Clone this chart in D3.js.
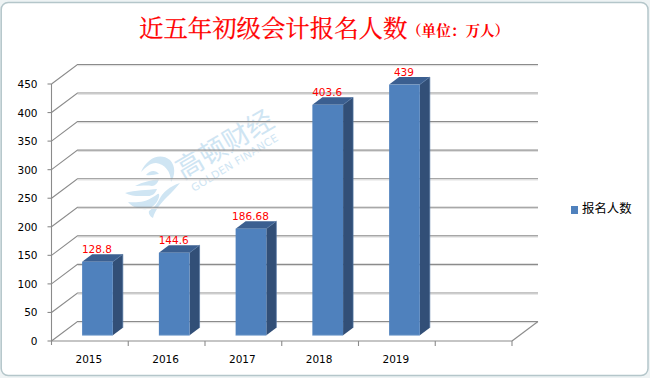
<!DOCTYPE html>
<html><head><meta charset="utf-8">
<script src="https://cdnjs.cloudflare.com/ajax/libs/d3/7.8.5/d3.min.js"></script>
<style>html,body{margin:0;padding:0;background:#fff}svg{display:block}</style>
</head><body><svg id="c" width="650" height="378"></svg>
<script>
const years = ["2015","2016","2017","2018","2019",""];
const values = [128.8,144.6,186.68,403.6,439];
const valueLabels = ["128.8","144.6","186.68","403.6","439"];
const yTicks = [0,50,100,150,200,250,300,350,400,450];
const titleMain = "近五年初级会计报名人数";
const titleUnit = "（单位：万人）";
const seriesName = "报名人数";
const cjk = "'Noto Sans CJK SC',sans-serif";
const serif = "'Noto Serif CJK SC',"+cjk;
const latin = "'DejaVu Sans',sans-serif";
const wmColor = "#cfe5f3";

const svg = d3.select("#c");
svg.append("rect").attr("width",650).attr("height",378).attr("fill","#eef3f4");
svg.append("rect").attr("x",1.2).attr("y",2.5).attr("width",646.8).attr("height",373).attr("rx",7)
  .attr("fill","#fff").attr("stroke","#b4c6ca").attr("stroke-width",1.5);

const x = d3.scaleBand().domain(years).range([51.5,512]);
const y = d3.scaleLinear().domain([0,450]).range([341,84]);
const depthX = 26, depthY = 19.5;

// watermark (below the gridlines)
const wm = svg.append("g").attr("fill",wmColor);
wm.append("text").attr("transform","translate(183,180) rotate(-30.5)")
  .attr("font-family",cjk).attr("font-size",27).text("高顿财经");
wm.append("text").attr("transform","translate(194,192) rotate(-31.5)")
  .attr("font-family",latin).attr("font-size",10.6).attr("letter-spacing",.35).text("GOLDEN FINANCE");
["M141 172 C147 158 160 152 170 160 C176 166 175 176 171 182 C171 172 165 164 156 163 C150 163 146 167 141 172 Z",
 "M146 175 C150 170 156 170 159 174 C155 174 151 176 146 175 Z",
 "M135 186 C143 182 151 180 159 179 C158 183 155 186 152 186 C146 185 140 186 135 186 Z",
 "M125 193 C135 190 148 190 157 189 C155 194 152 196 148 196 C140 196 132 197 125 193 Z",
 "M128 202 C136 203 146 202 153 197 C157 195 160 191 159 197 C157 204 152 208 147 209 C140 210 132 207 128 202 Z",
 "M180 183 C170 186 162 193 159 200 C156 206 153 208 149 211 C148 214 151 217 153 218 C155 210 161 203 167 197 C172 192 176 188 180 183 Z"]
  .forEach(d=>wm.append("path").attr("d",d));

// wall gridlines
const grid = svg.append("g");
yTicks.forEach(t=>{
  const p = d3.path();
  p.moveTo(x.range()[0], y(t));
  p.lineTo(x.range()[0]+depthX, y(t)-depthY);
  p.lineTo(x.range()[1]+depthX, y(t)-depthY);
  grid.append("path").attr("d",p.toString()).attr("fill","none").attr("stroke","#8b8b8b").attr("stroke-width",1.1);
  grid.append("line").attr("x1",x.range()[0]+depthX).attr("x2",x.range()[1]+depthX)
    .attr("y1",y(t)-depthY+1.2).attr("y2",y(t)-depthY+1.2).attr("stroke","#dcdcdc").attr("stroke-width",1);
});
grid.append("line").attr("x1",x.range()[1]).attr("y1",y(0)).attr("x2",x.range()[1]+depthX).attr("y2",y(0)-depthY)
  .attr("stroke","#8b8b8b").attr("stroke-width",1.1);

// axis lines
const ax = svg.append("g").attr("stroke","#8b8b8b").attr("stroke-width",1.1);
ax.append("line").attr("x1",51.5).attr("x2",51.5).attr("y1",y(450)).attr("y2",y(0)+4);
ax.append("line").attr("x1",51.5).attr("x2",512).attr("y1",y(0)).attr("y2",y(0));
yTicks.forEach(t=>ax.append("line").attr("x1",47.5).attr("x2",51.5).attr("y1",y(t)).attr("y2",y(t)));
x.domain().forEach(d=>ax.append("line").attr("x1",x(d)+x.bandwidth()).attr("x2",x(d)+x.bandwidth()).attr("y1",y(0)).attr("y2",y(0)+5));

// y tick labels
svg.append("g").selectAll("text").data(yTicks).join("text")
  .attr("x",37.5).attr("y",d=>y(d)+4).attr("text-anchor","end")
  .attr("font-family",latin).attr("font-size",10.5).attr("fill","#000").text(d=>d);
// x labels
svg.append("g").selectAll("text").data(years).join("text")
  .attr("x",d=>x(d)+x.bandwidth()/2-1).attr("y",362.7).attr("text-anchor","middle")
  .attr("font-family",latin).attr("font-size",10.5).attr("fill","#000").text(d=>d);

// bars
const barW = x.bandwidth()*0.4, offX = 7.6, offY = 5.7, bx = 10, by = 7.5;
const bars = svg.append("g");
values.forEach((v,i)=>{
  const l = x(years[i])+x.bandwidth()/2+offX-barW/2, r = l+barW, t = y(v)-offY, b = y(0)-offY;
  const poly = pts=>pts.map(p=>p.join(",")).join(" ");
  bars.append("polygon").attr("points",poly([[r,t],[r+bx,t-by],[r+bx,b-by],[r,b]])).attr("fill","#324f77");
  bars.append("polygon").attr("points",poly([[l,t],[l+bx,t-by],[r+bx,t-by],[r,t]])).attr("fill","#3b5f90");
  bars.append("rect").attr("x",l).attr("y",t).attr("width",barW).attr("height",b-t).attr("fill","#4f81bd");
  bars.append("path").attr("d",`M${r} ${t}L${r+bx} ${t-by}V${b-by}`).attr("fill","none").attr("stroke","#5577a3").attr("stroke-width",.7);
  bars.append("path").attr("d",`M${l} ${b}H${r}`).attr("stroke","#8eb0d8").attr("stroke-width",.8);
  svg.append("text").attr("x",l+barW/2-0.5).attr("y",t-9).attr("text-anchor","middle")
    .attr("font-family",latin).attr("font-size",10.5).attr("fill","#ff0000").text(valueLabels[i]);
});

// title
svg.append("text").attr("x",139).attr("y",37).attr("font-family",serif).attr("font-size",24.4)
  .attr("fill","#ff0000").attr("stroke","#ff0000").attr("stroke-width",.25).text(titleMain);
svg.append("text").attr("x",407).attr("y",36).attr("font-family",serif).attr("font-weight","bold")
  .attr("font-size",14.6).attr("fill","#ff0000").text(titleUnit);

// legend
svg.append("rect").attr("x",571).attr("y",206).attr("width",7).attr("height",8).attr("fill","#4f81bd");
svg.append("text").attr("x",582).attr("y",213).attr("font-family",cjk).attr("font-size",12.4).attr("fill","#000").text(seriesName);
</script></body></html>
